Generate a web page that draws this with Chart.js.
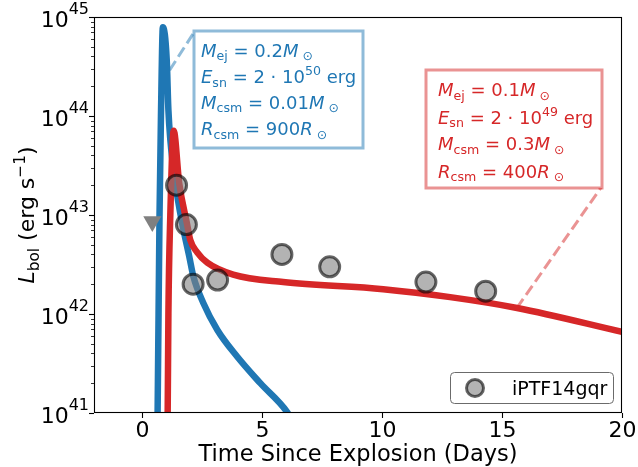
<!DOCTYPE html>
<html lang="en">
<head>
<meta charset="UTF-8">
<title>iPTF14gqr - CSM interaction models</title>
<script src="https://cdn.jsdelivr.net/npm/chart.js"></script>
<style>
  html, body { margin: 0; padding: 0; background: #fff; }
</style>
</head>
<body>
<canvas id="lcChart" width="638" height="467"></canvas>
<script>
// observed bolometric points of iPTF14gqr (days, erg/s)
const obsDays = [1.44, 1.85, 2.13, 3.15, 5.83, 7.82, 11.83, 14.32];
const obsLum = [2.0e43, 8.0e42, 2.0e42, 2.2e42, 4.0e42, 3.0e42, 2.1e42, 1.7e42];

// upper limit (down triangle)
const limDays = [0.43];
const limLum = [8.6e42];

// model 1 (blue): Mej=0.2, Esn=2e50, Mcsm=0.01, Rcsm=900
const blueDays = [0.64, 0.65, 0.69, 0.73, 0.79, 0.87, 1.03, 1.10, 1.18, 1.39, 1.67, 1.97, 2.14, 2.55, 3.14, 3.97, 4.93, 6.05, 6.3];
const blueLum = [5e40, 1e41, 1e42, 1e43, 1e44, 7.9e44, 3.7e44, 1.15e44, 5.8e43, 2.1e43, 8.3e42, 3.8e42, 2.4e42, 1.3e42, 6.9e41, 3.7e41, 2.0e41, 1.02e41, 8e40];

// model 2 (red): Mej=0.1, Esn=2e49, Mcsm=0.3, Rcsm=400
const redDays = [1.05, 1.07, 1.10, 1.18, 1.32, 1.55, 1.87, 2.01, 2.30, 2.72, 3.80, 5.88, 10.05, 12.84, 15.63, 20.0];
const redLum = [5e40, 1e41, 1e42, 1e43, 7.1e43, 2.1e43, 8.3e42, 5.6e42, 4.2e42, 3.3e42, 2.5e42, 2.1e42, 1.78e42, 1.48e42, 1.15e42, 6.6e41];

// dashed leader lines from the curves to the text boxes
const blueLeadDays = [1.15, 2.15];
const blueLeadLum = [2.9e44, 6.9e44];
const redLeadDays = [15.62, 19.13];
const redLeadLum = [1.15e42, 1.9e43];

const xTicks = [0, 5, 10, 15, 20];
const yTickExp = [41, 42, 43, 44, 45];

const blueText = [
  [['M', 'i'], ['ej', 'sub'], [' = 0.2', 'n'], ['M', 'i'], [' \u2299', 'sub']],
  [['E', 'i'], ['sn', 'sub'], [' = 2 \u00b7 10', 'n'], ['50', 'sup'], [' erg', 'n']],
  [['M', 'i'], ['csm', 'sub'], [' = 0.01', 'n'], ['M', 'i'], [' \u2299', 'sub']],
  [['R', 'i'], ['csm', 'sub'], [' = 900', 'n'], ['R', 'i'], [' \u2299', 'sub']]
];
const redText = [
  [['M', 'i'], ['ej', 'sub'], [' = 0.1', 'n'], ['M', 'i'], [' \u2299', 'sub']],
  [['E', 'i'], ['sn', 'sub'], [' = 2 \u00b7 10', 'n'], ['49', 'sup'], [' erg', 'n']],
  [['M', 'i'], ['csm', 'sub'], [' = 0.3', 'n'], ['M', 'i'], [' \u2299', 'sub']],
  [['R', 'i'], ['csm', 'sub'], [' = 400', 'n'], ['R', 'i'], [' \u2299', 'sub']]
];

const toXY = (xs, ys) => xs.map((x, i) => ({ x: x, y: ys[i] }));

const FONT = '"DejaVu Sans", sans-serif';

// writes a little mathtext-like run, returns its width
function drawRich(ctx, x, y, parts, size, color, dry) {
  let cx = x;
  parts.forEach(([t, k]) => {
    let fs = size, dy = 0, style = '';
    if (k === 'i') style = 'italic ';
    if (k === 'sub') { fs = size * 0.7; dy = size * 0.22; }
    if (k === 'sup') { fs = size * 0.7; dy = -size * 0.42; }
    ctx.font = style + fs + 'px ' + FONT;
    if (!dry) {
      ctx.fillStyle = color;
      ctx.fillText(t, cx, y + dy);
    }
    cx += ctx.measureText(t).width;
  });
  return cx - x;
}

function textBox(ctx, left, top, right, bottom, edge, lines, color, tx, baselines) {
  ctx.save();
  ctx.fillStyle = '#ffffff';
  ctx.fillRect(left, top, right - left, bottom - top);
  ctx.strokeStyle = edge;
  ctx.lineWidth = 3;
  ctx.strokeRect(left, top, right - left, bottom - top);
  ctx.textAlign = 'left';
  ctx.textBaseline = 'alphabetic';
  lines.forEach((ln, i) => drawRich(ctx, left + tx, top + baselines[i], ln, 18, color));
  ctx.restore();
}

const overlay = {
  id: 'overlay',
  afterDraw(chart) {
    const ctx = chart.ctx;
    const a = chart.chartArea;
    const xs = chart.scales.x, ys = chart.scales.y;
    ctx.save();

    // frame
    ctx.strokeStyle = '#000';
    ctx.lineWidth = 1.1;
    ctx.strokeRect(a.left + 0.5, a.top + 0.5, a.right - a.left - 1, a.bottom - a.top - 1);

    // x ticks and labels
    ctx.fillStyle = '#000';
    ctx.font = '22px ' + FONT;
    ctx.textAlign = 'center';
    ctx.textBaseline = 'alphabetic';
    xTicks.forEach(v => {
      const px = Math.round(xs.getPixelForValue(v)) + 0.5;
      ctx.beginPath();
      ctx.moveTo(px, a.bottom);
      ctx.lineTo(px, a.bottom + 5);
      ctx.stroke();
      ctx.fillText(String(v), px, a.bottom + 24);
    });

    // y ticks: majors with labels, minors 2..9
    yTickExp.forEach(e => {
      const py = Math.round(ys.getPixelForValue(Math.pow(10, e))) + 0.5;
      ctx.lineWidth = 1.1;
      ctx.beginPath();
      ctx.moveTo(a.left, py);
      ctx.lineTo(a.left - 5, py);
      ctx.stroke();
      const sup = String(e);
      ctx.font = '16px ' + FONT;
      const wSup = ctx.measureText(sup).width;
      ctx.font = '22px ' + FONT;
      const w10 = ctx.measureText('10').width;
      ctx.textAlign = 'left';
      ctx.fillText('10', a.left - 5 - w10 - wSup, py + 9.5);
      ctx.font = '16px ' + FONT;
      ctx.fillText(sup, a.left - 5 - wSup, py - 3.5);
      if (e < 45) {
        ctx.lineWidth = 0.8;
        for (let m = 2; m <= 9; m++) {
          const pm = Math.round(ys.getPixelForValue(m * Math.pow(10, e))) + 0.5;
          ctx.beginPath();
          ctx.moveTo(a.left, pm);
          ctx.lineTo(a.left - 3, pm);
          ctx.stroke();
        }
      }
    });

    // axis titles
    ctx.font = '22.5px ' + FONT;
    ctx.textAlign = 'center';
    ctx.fillText('Time Since Explosion (Days)', (a.left + a.right) / 2, 461);

    const yParts = [['L', 'i'], ['bol', 'sub'], [' (erg s', 'n'], ['\u22121', 'sup'], [')', 'n']];
    ctx.save();
    ctx.translate(34, (a.top + a.bottom) / 2);
    ctx.rotate(-Math.PI / 2);
    ctx.textAlign = 'left';
    const wy = drawRich(ctx, 0, 0, yParts, 22, '#000', true);
    drawRich(ctx, -wy / 2, 0, yParts, 22, '#000');
    ctx.restore();

    // annotation boxes
    textBox(ctx, 194, 31, 363, 148, 'rgba(31,119,180,0.5)', blueText, '#1f77b4', 7, [25.5, 52, 77.5, 104]);
    textBox(ctx, 426, 70, 602, 188, 'rgba(214,39,40,0.5)', redText, '#d62728', 12, [26, 53.5, 80, 107.5]);

    // legend
    const obs = chart.data.datasets[0];
    ctx.beginPath();
    ctx.roundRect(450.5, 372.5, 163, 31, 4);
    ctx.fillStyle = 'rgba(255,255,255,0.8)';
    ctx.fill();
    ctx.strokeStyle = '#6b6b6b';
    ctx.lineWidth = 1;
    ctx.stroke();
    ctx.beginPath();
    ctx.arc(475, 388, 8.5, 0, Math.PI * 2);
    ctx.fillStyle = obs.backgroundColor;
    ctx.fill();
    ctx.lineWidth = 3;
    ctx.strokeStyle = obs.borderColor;
    ctx.stroke();
    ctx.fillStyle = '#000';
    ctx.font = '19px ' + FONT;
    ctx.textAlign = 'left';
    ctx.fillText(obs.label, 512, 394.5);

    ctx.restore();
  }
};

new Chart(document.getElementById('lcChart').getContext('2d'), {
  type: 'line',
  data: {
    datasets: [
      {
        label: 'iPTF14gqr',
        data: toXY(obsDays, obsLum),
        showLine: false,
        pointStyle: 'circle',
        pointRadius: 10,
        pointBorderWidth: 3,
        backgroundColor: 'rgba(128,128,128,0.6)',
        borderColor: 'rgba(0,0,0,0.6)',
        order: 0
      },
      {
        label: 'limit',
        data: toXY(limDays, limLum),
        showLine: false,
        pointStyle: 'triangle',
        rotation: 180,
        pointRadius: 10.5,
        pointBorderWidth: 0,
        backgroundColor: '#808080',
        borderColor: '#808080',
        order: 1
      },
      {
        label: 'red model',
        data: toXY(redDays, redLum),
        borderColor: '#d62728',
        borderWidth: 6.5,
        pointRadius: 0,
        cubicInterpolationMode: 'monotone',
        borderJoinStyle: 'round',
        clip: 0,
        order: 2
      },
      {
        label: 'blue model',
        data: toXY(blueDays, blueLum),
        borderColor: '#1f77b4',
        borderWidth: 6.5,
        pointRadius: 0,
        cubicInterpolationMode: 'monotone',
        borderJoinStyle: 'round',
        clip: 0,
        order: 3
      },
      {
        label: 'blue leader',
        data: toXY(blueLeadDays, blueLeadLum),
        borderColor: 'rgba(31,119,180,0.5)',
        borderWidth: 3,
        borderDash: [11, 5],
        pointRadius: 0,
        order: 4
      },
      {
        label: 'red leader',
        data: toXY(redLeadDays, redLeadLum),
        borderColor: 'rgba(214,39,40,0.5)',
        borderWidth: 3,
        borderDash: [11, 5],
        pointRadius: 0,
        order: 4
      }
    ]
  },
  options: {
    responsive: false,
    animation: false,
    layout: { padding: { left: 0, right: 16, top: 17, bottom: 0 } },
    plugins: { legend: { display: false }, tooltip: { enabled: false } },
    scales: {
      x: {
        type: 'linear', min: -2, max: 20,
        grid: { display: false }, border: { display: false },
        ticks: { display: false },
        afterFit: s => { s.height = 54; }
      },
      y: {
        type: 'logarithmic', min: 1e41, max: 1e45,
        grid: { display: false }, border: { display: false },
        ticks: { display: false },
        afterFit: s => { s.width = 94; }
      }
    }
  },
  plugins: [overlay]
});
</script>
</body>
</html>
